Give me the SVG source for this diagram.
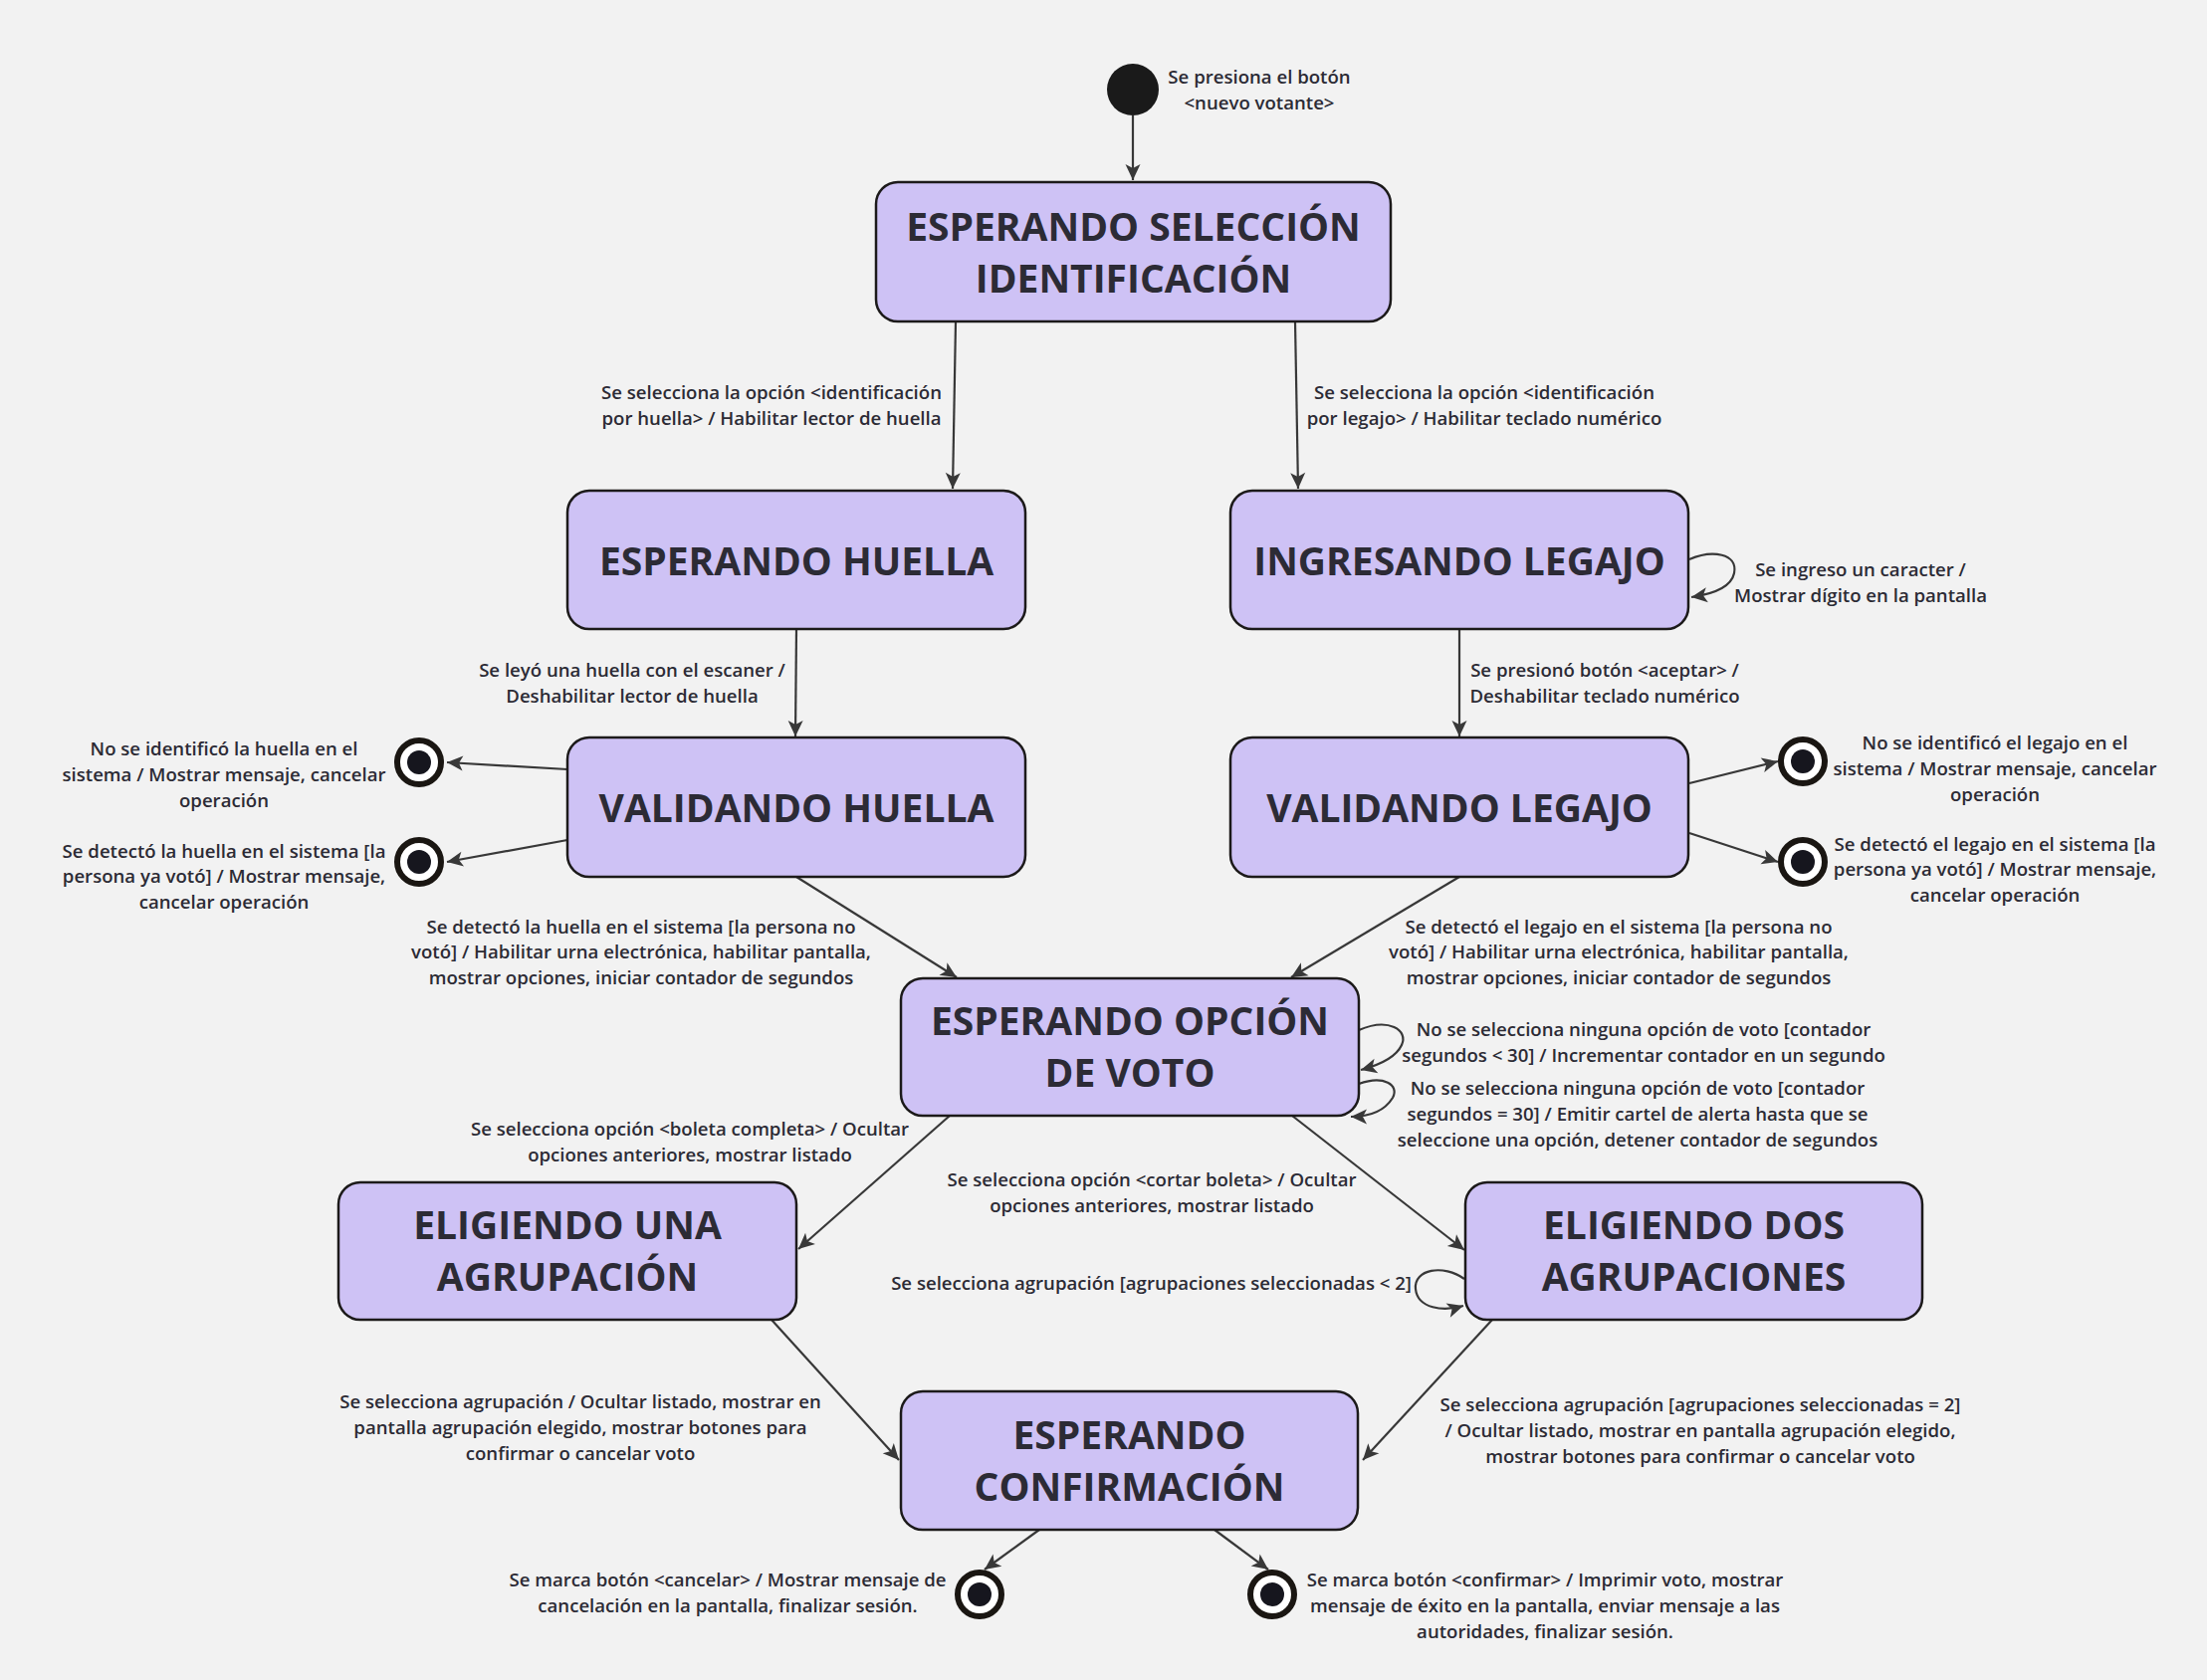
<svg xmlns="http://www.w3.org/2000/svg" width="2217" height="1688" viewBox="0 0 2217 1688">
<defs>
<style>
.bg{fill:#f2f2f2}
.node rect{fill:#cec2f5;stroke:#1c1a1a;stroke-width:2.5}
.title{font-family:"Open Sans","Noto Sans","Liberation Sans",sans-serif;font-weight:700;font-size:39px;fill:#2c2b35;text-anchor:middle}
.lbl{font-family:"Open Sans","Noto Sans","Liberation Sans",sans-serif;font-weight:600;font-size:18.6px;fill:#2c2b35;text-anchor:middle}
.end{text-anchor:end}
.edge{fill:none;stroke:#383838;stroke-width:2.2}
.fin-o{fill:#ffffff;stroke:#1a1612;stroke-width:6}
.fin-i{fill:#16161e}
</style>
<marker id="arr" viewBox="0 0 18 18" refX="17" refY="9" markerWidth="18" markerHeight="18" orient="auto" markerUnits="userSpaceOnUse">
<path d="M1,1.5 L17,9 L1,16.5 L5,9 z" fill="#383838"/>
</marker>
</defs>
<rect class="bg" x="0" y="0" width="2217" height="1688"/>

<g id="connectors">
<path class="edge" d="M1138,116 L1138,181" marker-end="url(#arr)"/>
<path class="edge" d="M960,323 L957,491" marker-end="url(#arr)"/>
<path class="edge" d="M1301,323 L1304,491" marker-end="url(#arr)"/>
<path class="edge" d="M800,632 L799,740" marker-end="url(#arr)"/>
<path class="edge" d="M1466,632 L1466,740" marker-end="url(#arr)"/>
<path class="edge" d="M570,773 L449,766" marker-end="url(#arr)"/>
<path class="edge" d="M570,844 L449,866" marker-end="url(#arr)"/>
<path class="edge" d="M1697,787 L1786,765" marker-end="url(#arr)"/>
<path class="edge" d="M1697,837 L1786,866" marker-end="url(#arr)"/>
<path class="edge" d="M1697,562 C1720,552 1746,556 1742,576 C1739,590 1720,597 1699,600" marker-end="url(#arr)"/>
<path class="edge" d="M800,881 L961,982" marker-end="url(#arr)"/>
<path class="edge" d="M1466,881 L1297,982" marker-end="url(#arr)"/>
<path class="edge" d="M1365,1035 C1395,1022 1415,1035 1408,1050 C1402,1063 1386,1070 1367,1075" marker-end="url(#arr)"/>
<path class="edge" d="M1365,1089 C1390,1080 1406,1090 1399,1103 C1391,1116 1376,1122 1357,1122" marker-end="url(#arr)"/>
<path class="edge" d="M954,1121 L802,1255" marker-end="url(#arr)"/>
<path class="edge" d="M1298,1121 L1471,1256" marker-end="url(#arr)"/>
<path class="edge" d="M1471,1285 C1450,1270 1420,1275 1422,1295 C1424,1315 1450,1318 1470,1312" marker-end="url(#arr)"/>
<path class="edge" d="M775,1326 L903,1467" marker-end="url(#arr)"/>
<path class="edge" d="M1499,1326 L1369,1467" marker-end="url(#arr)"/>
<path class="edge" d="M1044,1537 L989,1577" marker-end="url(#arr)"/>
<path class="edge" d="M1220,1537 L1274,1577" marker-end="url(#arr)"/>
</g>

<g id="initial"><circle cx="1138" cy="90" r="26" fill="#1a1a1a"/></g>

<g id="n-seleccion" class="node"><rect x="880" y="183" width="517" height="140" rx="22"/>
<text class="title" x="1138.5" y="242">ESPERANDO SELECCIÓN</text><text class="title" x="1138.5" y="294">IDENTIFICACIÓN</text></g>
<g id="n-esp-huella" class="node"><rect x="570" y="493" width="460" height="139" rx="22"/>
<text class="title" x="800" y="578">ESPERANDO HUELLA</text></g>
<g id="n-ing-legajo" class="node"><rect x="1236" y="493" width="460" height="139" rx="22"/>
<text class="title" x="1466" y="578">INGRESANDO LEGAJO</text></g>
<g id="n-val-huella" class="node"><rect x="570" y="741" width="460" height="140" rx="22"/>
<text class="title" x="800" y="826">VALIDANDO HUELLA</text></g>
<g id="n-val-legajo" class="node"><rect x="1236" y="741" width="460" height="140" rx="22"/>
<text class="title" x="1466" y="826">VALIDANDO LEGAJO</text></g>
<g id="n-opcion" class="node"><rect x="905" y="983" width="460" height="138" rx="22"/>
<text class="title" x="1135" y="1040">ESPERANDO OPCIÓN</text><text class="title" x="1135" y="1092">DE VOTO</text></g>
<g id="n-una" class="node"><rect x="340" y="1188" width="460" height="138" rx="22"/>
<text class="title" x="570" y="1245">ELIGIENDO UNA</text><text class="title" x="570" y="1297">AGRUPACIÓN</text></g>
<g id="n-dos" class="node"><rect x="1472" y="1188" width="459" height="138" rx="22"/>
<text class="title" x="1701.5" y="1245">ELIGIENDO DOS</text><text class="title" x="1701.5" y="1297">AGRUPACIONES</text></g>
<g id="n-confirmacion" class="node"><rect x="905" y="1398" width="459" height="139" rx="22"/>
<text class="title" x="1134.5" y="1456">ESPERANDO</text><text class="title" x="1134.5" y="1508">CONFIRMACIÓN</text></g>

<g id="final-1"><circle class="fin-o" cx="421" cy="766" r="22"/><circle class="fin-i" cx="421" cy="766" r="12"/></g>
<g id="final-2"><circle class="fin-o" cx="421" cy="866" r="22"/><circle class="fin-i" cx="421" cy="866" r="12"/></g>
<g id="final-3"><circle class="fin-o" cx="1811" cy="765" r="22"/><circle class="fin-i" cx="1811" cy="765" r="12"/></g>
<g id="final-4"><circle class="fin-o" cx="1811" cy="866" r="22"/><circle class="fin-i" cx="1811" cy="866" r="12"/></g>
<g id="final-5"><circle class="fin-o" cx="984" cy="1602" r="22"/><circle class="fin-i" cx="984" cy="1602" r="12"/></g>
<g id="final-6"><circle class="fin-o" cx="1278" cy="1602" r="22"/><circle class="fin-i" cx="1278" cy="1602" r="12"/></g>

<g id="labels">
<text class="lbl" x="1265" y="84">Se presiona el botón</text>
<text class="lbl" x="1265" y="110">&lt;nuevo votante&gt;</text>
<text class="lbl" x="775" y="401">Se selecciona la opción &lt;identificación</text>
<text class="lbl" x="775" y="427">por huella&gt; / Habilitar lector de huella</text>
<text class="lbl" x="1491" y="401">Se selecciona la opción &lt;identificación</text>
<text class="lbl" x="1491" y="427">por legajo&gt; / Habilitar teclado numérico</text>
<text class="lbl" x="635" y="680">Se leyó una huella con el escaner /</text>
<text class="lbl" x="635" y="706">Deshabilitar lector de huella</text>
<text class="lbl" x="1869" y="579">Se ingreso un caracter /</text>
<text class="lbl" x="1869" y="605">Mostrar dígito en la pantalla</text>
<text class="lbl" x="1612" y="680">Se presionó botón &lt;aceptar&gt; /</text>
<text class="lbl" x="1612" y="706">Deshabilitar teclado numérico</text>
<text class="lbl" x="225" y="759">No se identificó la huella en el</text>
<text class="lbl" x="225" y="785">sistema / Mostrar mensaje, cancelar</text>
<text class="lbl" x="225" y="811">operación</text>
<text class="lbl" x="225" y="862">Se detectó la huella en el sistema [la</text>
<text class="lbl" x="225" y="887">persona ya votó] / Mostrar mensaje,</text>
<text class="lbl" x="225" y="913">cancelar operación</text>
<text class="lbl" x="2004" y="753">No se identificó el legajo en el</text>
<text class="lbl" x="2004" y="779">sistema / Mostrar mensaje, cancelar</text>
<text class="lbl" x="2004" y="805">operación</text>
<text class="lbl" x="2004" y="855">Se detectó el legajo en el sistema [la</text>
<text class="lbl" x="2004" y="880">persona ya votó] / Mostrar mensaje,</text>
<text class="lbl" x="2004" y="906">cancelar operación</text>
<text class="lbl" x="644" y="938">Se detectó la huella en el sistema [la persona no</text>
<text class="lbl" x="644" y="963">votó] / Habilitar urna electrónica, habilitar pantalla,</text>
<text class="lbl" x="644" y="989">mostrar opciones, iniciar contador de segundos</text>
<text class="lbl" x="1626" y="938">Se detectó el legajo en el sistema [la persona no</text>
<text class="lbl" x="1626" y="963">votó] / Habilitar urna electrónica, habilitar pantalla,</text>
<text class="lbl" x="1626" y="989">mostrar opciones, iniciar contador de segundos</text>
<text class="lbl" x="1651" y="1041">No se selecciona ninguna opción de voto [contador</text>
<text class="lbl" x="1651" y="1067">segundos &lt; 30] / Incrementar contador en un segundo</text>
<text class="lbl" x="1645" y="1100">No se selecciona ninguna opción de voto [contador</text>
<text class="lbl" x="1645" y="1126">segundos = 30] / Emitir cartel de alerta hasta que se</text>
<text class="lbl" x="1645" y="1152">seleccione una opción, detener contador de segundos</text>
<text class="lbl" x="693" y="1141">Se selecciona opción &lt;boleta completa&gt; / Ocultar</text>
<text class="lbl" x="693" y="1167">opciones anteriores, mostrar listado</text>
<text class="lbl" x="1157" y="1192">Se selecciona opción &lt;cortar boleta&gt; / Ocultar</text>
<text class="lbl" x="1157" y="1218">opciones anteriores, mostrar listado</text>
<text class="lbl end" x="1418" y="1296">Se selecciona agrupación [agrupaciones seleccionadas &lt; 2]</text>
<text class="lbl" x="583" y="1415">Se selecciona agrupación / Ocultar listado, mostrar en</text>
<text class="lbl" x="583" y="1441">pantalla agrupación elegido, mostrar botones para</text>
<text class="lbl" x="583" y="1467">confirmar o cancelar voto</text>
<text class="lbl" x="1708" y="1418">Se selecciona agrupación [agrupaciones seleccionadas = 2]</text>
<text class="lbl" x="1708" y="1444">/ Ocultar listado, mostrar en pantalla agrupación elegido,</text>
<text class="lbl" x="1708" y="1470">mostrar botones para confirmar o cancelar voto</text>
<text class="lbl" x="731" y="1594">Se marca botón &lt;cancelar&gt; / Mostrar mensaje de</text>
<text class="lbl" x="731" y="1620">cancelación en la pantalla, finalizar sesión.</text>
<text class="lbl" x="1552" y="1594">Se marca botón &lt;confirmar&gt; / Imprimir voto, mostrar</text>
<text class="lbl" x="1552" y="1620">mensaje de éxito en la pantalla, enviar mensaje a las</text>
<text class="lbl" x="1552" y="1646">autoridades, finalizar sesión.</text>
</g>
</svg>
